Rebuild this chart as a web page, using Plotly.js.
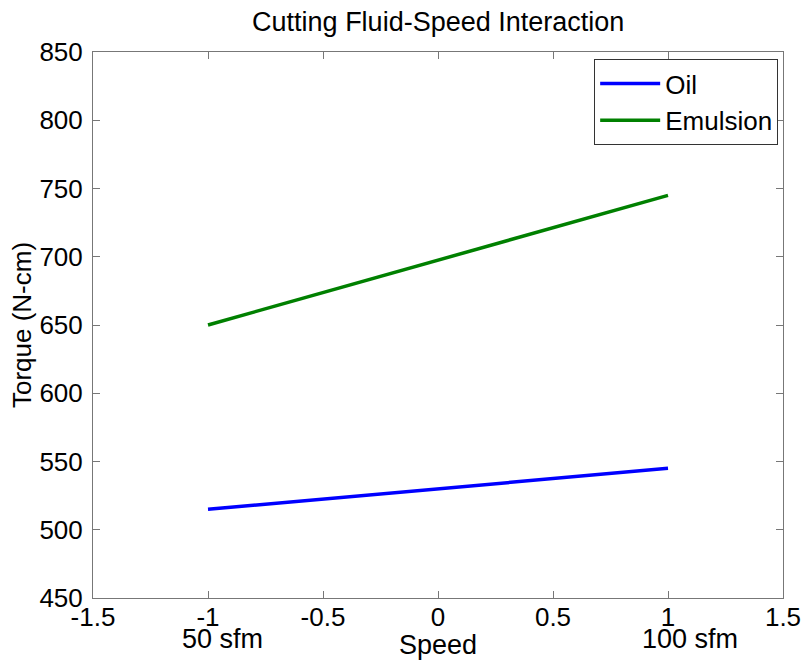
<!DOCTYPE html>
<html>
<head>
<meta charset="utf-8">
<script src="https://cdn.plot.ly/plotly-3.0.1.min.js"></script>
<style>
  html, body { margin: 0; padding: 0; background: #ffffff; }
  #chart { width: 807px; height: 662px; }
</style>
</head>
<body>
<div id="chart"></div>
<script>
// Coded speed levels (-1 = 50 sfm, +1 = 100 sfm)
const speedLevels = [-1, 1];
const speedNames = ['50 sfm', '100 sfm'];

// Mean torque (N-cm) for each cutting fluid
const oilTorque = [515, 545];
const emulsionTorque = [650, 745];

const seriesNames = ['Oil', 'Emulsion'];
const xTicks = [-1.5, -1, -0.5, 0, 0.5, 1, 1.5];
const yTicks = [450, 500, 550, 600, 650, 700, 750, 800, 850];

const font = 'Liberation Sans, Arial, sans-serif';
const fs = 27;

const traces = [
  {
    x: speedLevels, y: oilTorque, name: seriesNames[0],
    type: 'scatter', mode: 'lines',
    line: { color: '#0000ff', width: 3.5 }
  },
  {
    x: speedLevels, y: emulsionTorque, name: seriesNames[1],
    type: 'scatter', mode: 'lines',
    line: { color: '#008000', width: 3.5 }
  }
];

const axisCommon = {
  showgrid: false, zeroline: false,
  showline: true, mirror: 'ticks',
  linecolor: '#777777', linewidth: 1,
  ticks: 'inside', ticklen: 7, tickcolor: '#777777',
  tickfont: { family: font, size: 26, color: '#000000' }
};

const layout = {
  width: 807, height: 662,
  margin: { l: 93, r: 24, t: 52, b: 64 },
  paper_bgcolor: '#ffffff', plot_bgcolor: '#ffffff',
  title: {
    text: 'Cutting Fluid-Speed Interaction',
    font: { family: font, size: fs, color: '#000000' },
    x: 0.543, xanchor: 'center', y: 0.967, yanchor: 'middle'
  },
  xaxis: Object.assign({}, axisCommon, {
    range: [-1.5, 1.5], tickvals: xTicks,
    ticktext: xTicks.map(String),
    ticklabelstandoff: -4
  }),
  yaxis: Object.assign({}, axisCommon, {
    range: [450, 850], tickvals: yTicks,
    ticklabelstandoff: 4,
    title: { text: 'Torque (N-cm)', font: { family: font, size: 26, color: '#000000' }, standoff: 0 }
  }),
  showlegend: true,
  legend: {
    x: 0.993, xanchor: 'right', y: 0.987, yanchor: 'top',
    bgcolor: '#ffffff', bordercolor: '#333333', borderwidth: 1,
    font: { family: font, size: 26, color: '#000000' },
    itemwidth: 60,
    tracegroupgap: 0
  },
  annotations: [
    {
      x: speedLevels[0], y: 0, xref: 'x', yref: 'paper',
      text: speedNames[0], showarrow: false, xshift: 14, yshift: -41,
      yanchor: 'middle', font: { family: font, size: fs, color: '#000000' }
    },
    {
      x: speedLevels[1], y: 0, xref: 'x', yref: 'paper',
      text: speedNames[1], showarrow: false, xshift: 22, yshift: -41,
      yanchor: 'middle', font: { family: font, size: fs, color: '#000000' }
    },
    {
      x: 0.5, y: 0, xref: 'paper', yref: 'paper',
      text: 'Speed', showarrow: false, yshift: -47,
      yanchor: 'middle', font: { family: font, size: fs, color: '#000000' }
    }
  ]
};

Plotly.newPlot('chart', traces, layout, { displayModeBar: false, staticPlot: true });
</script>
</body>
</html>
